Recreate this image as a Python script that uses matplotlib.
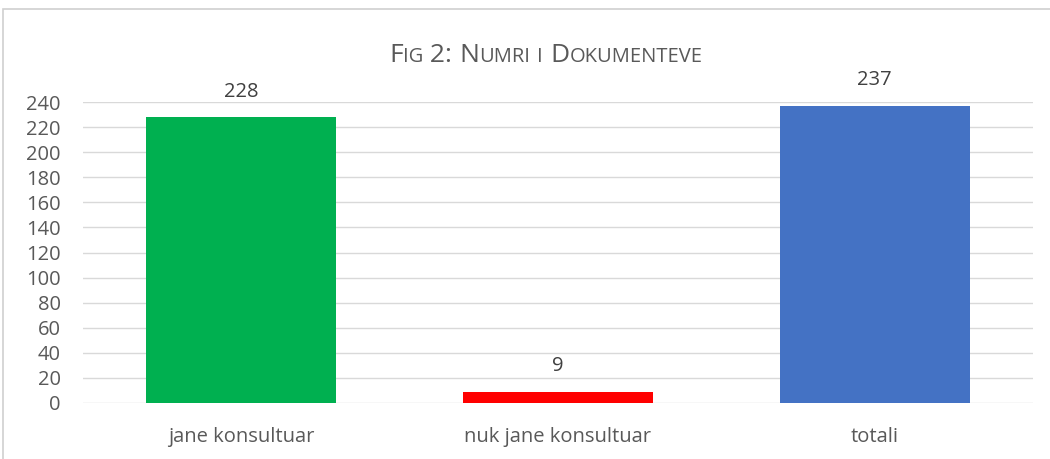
import matplotlib.pyplot as plt
from matplotlib.patches import Rectangle

categories = ["jane konsultuar", "nuk jane konsultuar", "totali"]
values = [228, 9, 237]
colors = ["#00B050", "#FF0000", "#4472C4"]
yticks = list(range(0, 241, 20))

plt.rcParams['font.family'] = ['Open Sans', 'DejaVu Sans']
grey = "#595959"

fig = plt.figure(figsize=(10.5, 4.59), dpi=100)
ax = fig.add_axes([83/1050, 1 - 403/459, 950/1050, 301/459])

x = list(range(len(categories)))
ax.bar(x, values, width=0.6, color=colors, zorder=2)
for xi, v in zip(x, values):
    ax.annotate(str(v), (xi, v), xytext=(0, 11), textcoords="offset points",
                ha="center", va="bottom", fontsize=14.5, color="#404040")

ax.set_xlim(-0.5, 2.5)
ax.set_ylim(0, 240)
ax.set_yticks(yticks)
ax.set_xticks(x)
ax.set_xticklabels(categories)
ax.tick_params(axis="both", length=0, labelsize=14.5, colors=grey)
ax.tick_params(axis="x", pad=17)
ax.tick_params(axis="y", pad=16)
ax.grid(axis="y", color="#d9d9d9", linewidth=1, zorder=0)
for s in ax.spines.values():
    s.set_visible(False)

# outer frame of the chart (only top/left visible in the crop)
fig.patches.append(Rectangle((3/1050, -0.1), 1.2, 1 - 9/459 + 0.1,
                             transform=fig.transFigure, fill=False,
                             edgecolor="#d0d0d0", linewidth=1.2))

# title in small caps, drawn piece by piece
parts = [("F", 19), ("IG", 14.5), (" 2: ", 19), ("N", 19), ("UMRI", 14.5), (" ", 19),
         ("I", 14.5), (" ", 19), ("D", 19), ("OKUMENTEVE", 14.5)]
fig.canvas.draw()
r = fig.canvas.get_renderer()
texts = []
total = 0
for s, size in parts:
    t = fig.text(0, 1 - 62/459, s, fontsize=size, color=grey, ha="left", va="baseline")
    w = t.get_window_extent(r).width
    if s == " ":
        w = size * 0.28 * 100 / 72
    texts.append((t, w))
    total += w
xpos = 546 - total / 2
for t, w in texts:
    t.set_x(xpos / 1050)
    xpos += w

fig.savefig("out.png", dpi=100)
